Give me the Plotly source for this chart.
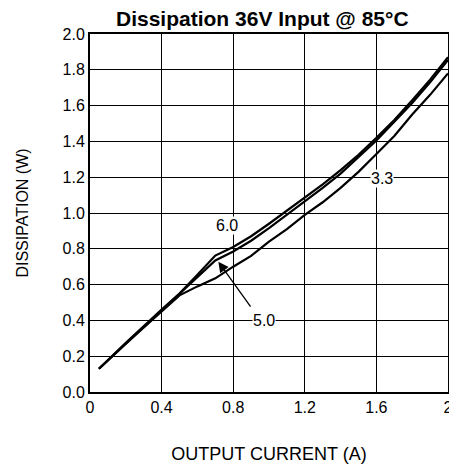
import plotly.graph_objects as go

# Output current (A)
current = [0.05, 0.2, 0.4, 0.5, 0.6, 0.7, 0.8, 0.9, 1.0, 1.1, 1.2, 1.3, 1.4, 1.5, 1.6, 1.7, 1.8, 1.9, 2.0]
# Dissipation (W) per output voltage
diss_3v3 = [0.13, 0.27, 0.45, 0.54, 0.59, 0.635, 0.70, 0.76, 0.84, 0.91, 0.99, 1.06, 1.14, 1.23, 1.33, 1.43, 1.55, 1.66, 1.78]
diss_5v0 = [0.13, 0.27, 0.455, 0.545, 0.64, 0.735, 0.785, 0.845, 0.915, 0.99, 1.06, 1.14, 1.22, 1.31, 1.405, 1.51, 1.615, 1.73, 1.855]
diss_6v0 = [0.13, 0.275, 0.46, 0.55, 0.655, 0.762, 0.81, 0.87, 0.94, 1.013, 1.082, 1.16, 1.24, 1.325, 1.42, 1.52, 1.63, 1.745, 1.87]

x_ticks = [0, 0.4, 0.8, 1.2, 1.6, 2.0]
x_tick_labels = ["0", "0.4", "0.8", "1.2", "1.6", "2"]
y_ticks = [0.0, 0.2, 0.4, 0.6, 0.8, 1.0, 1.2, 1.4, 1.6, 1.8, 2.0]

FONT = "Arial, Liberation Sans, sans-serif"

fig = go.Figure()
for name, ys in [("3.3", diss_3v3), ("5.0", diss_5v0), ("6.0", diss_6v0)]:
    fig.add_trace(go.Scatter(x=current, y=ys, mode="lines", name=name,
                             line=dict(color="black", width=2.2),
                             showlegend=False, hoverinfo="skip"))

# page body has an 8px margin, so the figure is shifted by (8, 8)
fig.update_layout(
    width=449, height=458,
    margin=dict(l=82, r=9, t=26, b=74),
    paper_bgcolor="white", plot_bgcolor="white",
    font=dict(family=FONT, size=16, color="black"),
    showlegend=False,
)
fig.update_xaxes(
    range=[0, 2], tickvals=x_ticks, ticktext=x_tick_labels,
    showgrid=True, gridcolor="black", gridwidth=1,
    showline=True, linecolor="black", linewidth=2, mirror=True,
    zeroline=False, ticks="", ticklen=0, automargin=False,
    tickfont=dict(size=16),
    title=dict(text="OUTPUT CURRENT (A)", font=dict(size=18), standoff=32),
)
fig.update_yaxes(
    range=[0, 2], tickvals=y_ticks, tickformat=".1f",
    showgrid=True, gridcolor="black", gridwidth=1,
    showline=True, linecolor="black", linewidth=2, mirror=True,
    zeroline=False, ticks="", ticklen=0, automargin=False,
    tickfont=dict(size=16),
    title=dict(text="DISSIPATION (W)", font=dict(size=16), standoff=30),
)

fig.add_annotation(text="<b>Dissipation 36V Input @ 85°C</b>", xref="paper", yref="paper",
                   x=0.482, y=1.0, yshift=16, showarrow=False, font=dict(size=21),
                   xanchor="center", yanchor="middle")

fig.add_annotation(text="6.0", x=0.765, y=0.93, showarrow=False, bgcolor="white",
                   font=dict(size=16), borderpad=0)
fig.add_annotation(text="3.3", x=1.63, y=1.195, showarrow=False, bgcolor="white",
                   font=dict(size=16), borderpad=0)
fig.add_annotation(text="", x=0.717, y=0.728, ax=0.903, ay=0.468, axref="x", ayref="y",
                   showarrow=True, arrowhead=2, arrowsize=1.6, arrowwidth=1.3, arrowcolor="black")
fig.add_annotation(text="5.0", x=0.97, y=0.40, showarrow=False, bgcolor="white",
                   font=dict(size=16), borderpad=0)

fig.write_html("out.html")
